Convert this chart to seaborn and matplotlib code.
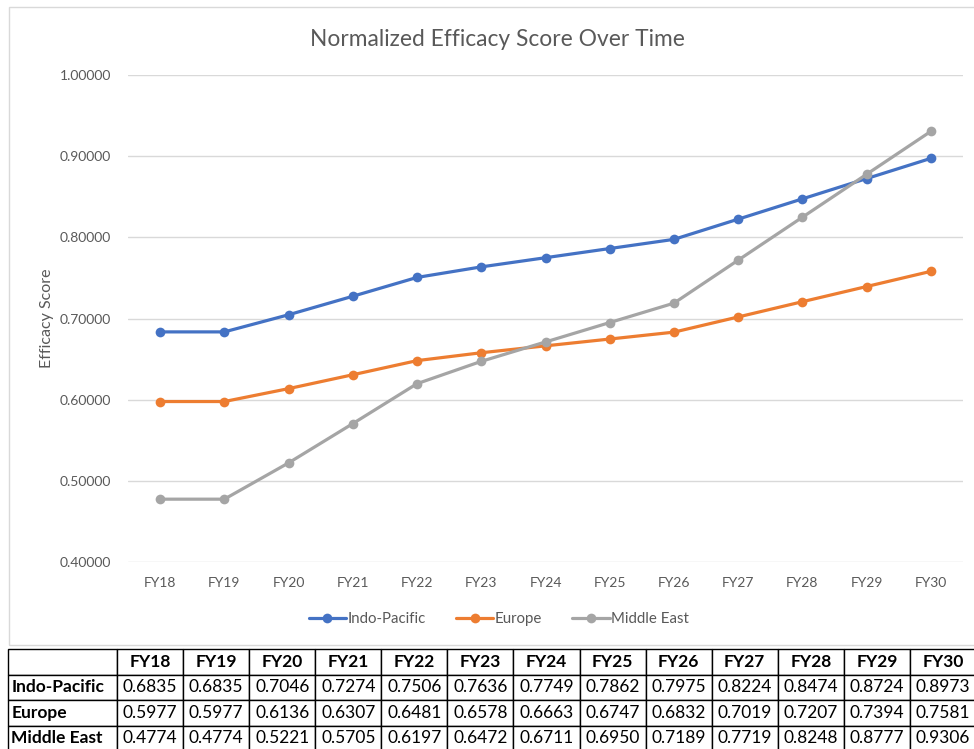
import pandas as pd
import matplotlib
matplotlib.use('Agg')
import matplotlib.pyplot as plt
import seaborn as sns
from matplotlib.lines import Line2D
from matplotlib.patches import Rectangle

# data
years = ['FY18', 'FY19', 'FY20', 'FY21', 'FY22', 'FY23', 'FY24',
         'FY25', 'FY26', 'FY27', 'FY28', 'FY29', 'FY30']
indo_pacific = [0.6835, 0.6835, 0.7046, 0.7274, 0.7506, 0.7636, 0.7749,
                0.7862, 0.7975, 0.8224, 0.8474, 0.8724, 0.8973]
europe = [0.5977, 0.5977, 0.6136, 0.6307, 0.6481, 0.6578, 0.6663,
          0.6747, 0.6832, 0.7019, 0.7207, 0.7394, 0.7581]
middle_east = [0.4774, 0.4774, 0.5221, 0.5705, 0.6197, 0.6472, 0.6711,
               0.6950, 0.7189, 0.7719, 0.8248, 0.8777, 0.9306]
regions = ['Indo-Pacific', 'Europe', 'Middle East']
colors = {'Indo-Pacific': '#4472C4', 'Europe': '#ED7D31', 'Middle East': '#A5A5A5'}

series = {'Indo-Pacific': indo_pacific, 'Europe': europe, 'Middle East': middle_east}
df = pd.DataFrame([
    {'year': y, 'region': r, 'score': v}
    for r in regions for y, v in zip(years, series[r])
])

sns.set_style('white')
plt.rcParams['font.family'] = ['Lato', 'DejaVu Sans']
grey = '#595959'

fig = plt.figure(figsize=(9.74, 7.49), dpi=100)

# chart frame
fig.patches.append(Rectangle((9 / 974, 1 - 645 / 749), 1.0, (645 - 7) / 749,
                             transform=fig.transFigure, fill=False,
                             edgecolor='#D9D9D9', lw=1.0))

ax = fig.add_axes([128 / 974, 187 / 749, (963 - 128) / 974, (562 - 75) / 749])
sns.lineplot(data=df, x='year', y='score', hue='region', palette=colors,
             marker='o', markersize=7, markeredgewidth=0, linewidth=2.3,
             legend=False, ax=ax, sort=False)

ax.set_xlim(-0.5, len(years) - 0.5)
ax.set_ylim(0.4, 1.0)
ax.set_yticks([0.4, 0.5, 0.6, 0.7, 0.8, 0.9, 1.0])
ax.set_yticklabels([f'{t:.5f}' for t in ax.get_yticks()])
ax.grid(axis='y', color='#D9D9D9', lw=1)
ax.set_axisbelow(True)
for s in ax.spines.values():
    s.set_visible(False)
ax.tick_params(axis='both', length=0, colors=grey, labelsize=10)
ax.tick_params(axis='y', pad=12)
ax.tick_params(axis='x', pad=11)
ax.set_xlabel('')
ax.set_ylabel('Efficacy Score', color=grey, fontsize=11.5, labelpad=4)

# title centred on the chart frame, not on the plot area
fig.text(497 / 974, 1 - 39 / 749, 'Normalized Efficacy Score Over Time',
         color=grey, fontsize=16.4, ha='center', va='center')

handles = [Line2D([0], [0], color=colors[r], lw=2.3, marker='o', markersize=7,
                  markeredgewidth=0) for r in regions]
fig.legend(handles, regions, loc='center', bbox_to_anchor=(499 / 974, 1 - 619 / 749),
           ncol=3, frameon=False, fontsize=10.8, labelcolor=grey,
           handlelength=2.5, handletextpad=0.1, columnspacing=2.0)

# data table below the chart
tax = fig.add_axes([8 / 974, -2 / 749, 968 / 974, 102 / 749])
tax.axis('off')
cells = [[''] + years]
for r in regions:
    cells.append([r] + [f'{v:.4f}' for v in series[r]])
first_w = 109 / 968
other_w = (1 - first_w) / len(years)
tbl = tax.table(cellText=cells, colWidths=[first_w] + [other_w] * len(years),
                bbox=[0, 0, 1, 1], cellLoc='center')
tbl.auto_set_font_size(False)
for (row, col), cell in tbl.get_celld().items():
    cell.set_edgecolor('black')
    cell.set_linewidth(1.0)
    cell.set_text_props(fontsize=12.5, color='black')
    if row == 0 or col == 0:
        cell.set_text_props(fontweight='bold')
    if col == 0:
        cell.set_text_props(ha='left')
        cell.PAD = 0.03

fig.savefig('out.png', dpi=100)
